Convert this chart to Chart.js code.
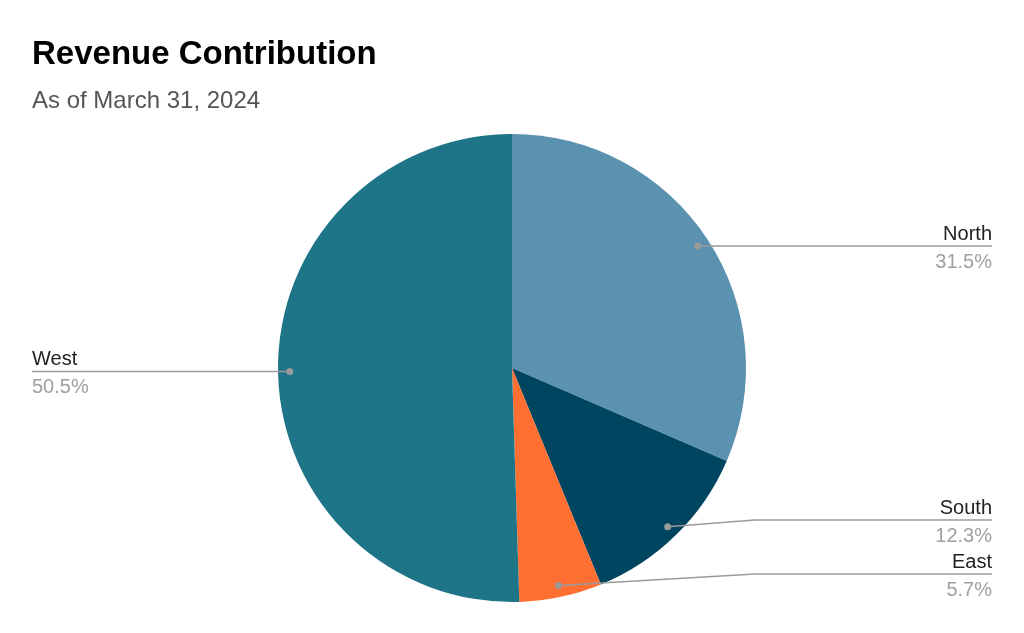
<!DOCTYPE html>
<html>
<head>
<meta charset="utf-8">
<script src="https://cdn.jsdelivr.net/npm/chart.js@4"></script>
<style>
  body { margin: 0; background: #fff; }
  #wrap { width: 1024px; height: 633px; position: relative; }
</style>
</head>
<body>
<div id="wrap"><canvas id="revenue"></canvas></div>
<script>
const regions = ["North", "South", "East", "West"];
const shares = [31.5, 12.3, 5.7, 50.5];
const sliceColors = ["#5a92af", "#004560", "#ff6f31", "#1e7587"];

const titleText = "Revenue Contribution";
const subtitleText = "As of March 31, 2024";

// draws the title block and the leader-line labels
const calloutPlugin = {
  id: "callouts",
  afterDraw(chart) {
    const ctx = chart.ctx;
    ctx.save();
    ctx.textBaseline = "alphabetic";
    ctx.fillStyle = "#000";
    ctx.textAlign = "left";
    ctx.font = "bold 33px 'Liberation Sans', Arial, sans-serif";
    ctx.fillText(titleText, 32, 64);
    ctx.fillStyle = "#555";
    ctx.font = "24px 'Liberation Sans', Arial, sans-serif";
    ctx.fillText(subtitleText, 32, 108);

    const meta = chart.getDatasetMeta(0);
    const items = meta.data.map((arc, i) => {
      const mid = (arc.startAngle + arc.endAngle) / 2;
      const r = arc.outerRadius * 0.95;
      const dx = arc.x + Math.cos(mid) * r;
      const dy = arc.y + Math.sin(mid) * r;
      return { i, dx, dy, right: Math.cos(mid) >= 0, lineY: dy, cx: arc.x };
    });

    // keep labels apart and inside the bottom edge
    const maxY = chart.height - 59;
    const gap = 54;
    [true, false].forEach((side) => {
      const group = items.filter((it) => it.right === side).sort((a, b) => b.dy - a.dy);
      let limit = maxY;
      group.forEach((it) => {
        it.lineY = Math.min(it.dy, limit);
        limit = it.lineY - gap;
      });
    });

    items.forEach((it) => {
      const endX = it.right ? 992 : 32;
      const elbowX = it.right ? it.cx + 243 : it.cx - 243;
      ctx.strokeStyle = "#9a9a9a";
      ctx.lineWidth = 1.5;
      ctx.beginPath();
      ctx.moveTo(it.dx, it.dy);
      if (Math.abs(it.lineY - it.dy) > 0.5) {
        ctx.lineTo(elbowX, it.lineY);
      }
      ctx.lineTo(endX, it.lineY);
      ctx.stroke();

      ctx.fillStyle = "#9a9a9a";
      ctx.beginPath();
      ctx.arc(it.dx, it.dy, 3.5, 0, Math.PI * 2);
      ctx.fill();

      ctx.textAlign = it.right ? "right" : "left";
      ctx.font = "20px 'Liberation Sans', Arial, sans-serif";
      ctx.fillStyle = "#222";
      ctx.fillText(regions[it.i], endX, it.lineY - 6);
      ctx.fillStyle = "#a0a0a0";
      ctx.fillText(shares[it.i].toFixed(1) + "%", endX, it.lineY + 22);
    });
    ctx.restore();
  }
};

new Chart(document.getElementById("revenue"), {
  type: "pie",
  data: {
    labels: regions,
    datasets: [{
      data: shares,
      backgroundColor: sliceColors,
      borderWidth: 0,
      hoverOffset: 0
    }]
  },
  options: {
    responsive: true,
    maintainAspectRatio: false,
    animation: false,
    layout: {
      padding: { left: 278, right: 278, top: 134, bottom: 31 }
    },
    plugins: {
      legend: { display: false },
      tooltip: { enabled: false },
      title: { display: false }
    }
  },
  plugins: [calloutPlugin]
});
</script>
</body>
</html>
